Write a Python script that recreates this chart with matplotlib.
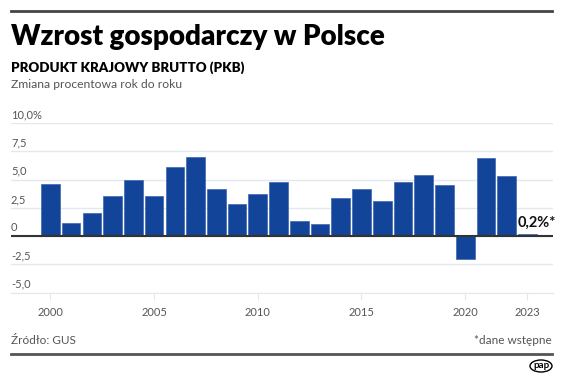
import numpy as np
import matplotlib.pyplot as plt
from matplotlib.patches import Ellipse
from matplotlib.transforms import offset_copy

plt.rcParams['font.family'] = ['Lato', 'DejaVu Sans']

# dane: PKB, zmiana r/r w %
years = np.arange(2000, 2024)
gdp = [4.6, 1.2, 2.0, 3.5, 5.0, 3.5, 6.1, 7.0, 4.2, 2.8, 3.7, 4.8,
       1.3, 1.1, 3.4, 4.2, 3.1, 4.8, 5.4, 4.5, -2.0, 6.9, 5.3, 0.2]
xticks = [2000, 2005, 2010, 2015, 2020, 2023]
yticks = [-5, -2.5, 0, 2.5, 5, 7.5, 10]
ylabels = ['-5,0', '-2,5', '0', '2,5', '5,0', '7,5', '10,0%']

bar_color = '#12449a'
grid_color = '#e3e8ef'
text_gray = '#555555'

fig = plt.figure(figsize=(5.64, 3.83), dpi=100)
ax = fig.add_axes([0.0195, 0.2358, 0.9605, 0.4432])

ax.bar(years, gdp, width=0.9, color=bar_color, edgecolor='#3d66b0', linewidth=0.5, zorder=3)
ax.axhline(0, color='#333333', lw=1.5, zorder=4)

ax.set_xlim(1998.1, 2024.22)
ax.set_ylim(-5, 10)
ax.set_yticks(yticks)
ax.yaxis.grid(True, color=grid_color, lw=1)
ax.tick_params(axis='y', length=0, labelleft=False)
lab_tr = offset_copy(ax.get_yaxis_transform(), fig=fig, x=0, y=2, units='points')
for v, lab in zip(yticks, ylabels):
    ax.text(0, v, lab, transform=lab_tr, ha='left', va='bottom',
            fontsize=8, color=text_gray)

ax.set_xticks(xticks)
ax.set_xticklabels([str(y) for y in xticks])
ax.tick_params(axis='x', length=5, color=grid_color, labelsize=8, labelcolor=text_gray, pad=5)

for s in ['top', 'right', 'left']:
    ax.spines[s].set_visible(False)
ax.spines['bottom'].set_color(grid_color)

ax.text(2023 - 0.45, 0.55, '0,2%*', ha='left', va='bottom', fontsize=10.5,
        fontweight='bold', color='#111111', zorder=5)

# naglowek
fig.add_artist(plt.Line2D([11/564, 552/564], [1 - 11/383, 1 - 11/383], color='#444444', lw=2))
fig.text(11/564, 1 - 37/383, 'Wzrost gospodarczy w Polsce', fontsize=20, fontweight='heavy',
         va='center', ha='left', color='black')
fig.text(11/564, 1 - 68/383, 'PRODUKT KRAJOWY BRUTTO (PKB)', fontsize=9.6, fontweight='heavy',
         va='center', ha='left', color='black')
fig.text(11/564, 1 - 85/383, 'Zmiana procentowa rok do roku', fontsize=8.7,
         va='center', ha='left', color=text_gray)

# stopka
fig.text(11/564, 1 - 341/383, 'Źródło: GUS', fontsize=8.5, va='center', ha='left', color=text_gray)
fig.text(552/564, 1 - 341/383, '*dane wstępne', fontsize=8.5, va='center', ha='right', color=text_gray)
fig.add_artist(plt.Line2D([11/564, 552/564], [1 - 354/383, 1 - 354/383], color='#555555', lw=2))
fig.add_artist(Ellipse((541/564, 1 - 366/383), 22/564, 12/383, transform=fig.transFigure,
                       facecolor='white', edgecolor='black', lw=1))
fig.text(541/564, 1 - 366/383, 'pap', fontsize=7, fontweight='bold', ha='center', va='center')

fig.savefig('out.png', dpi=100)
